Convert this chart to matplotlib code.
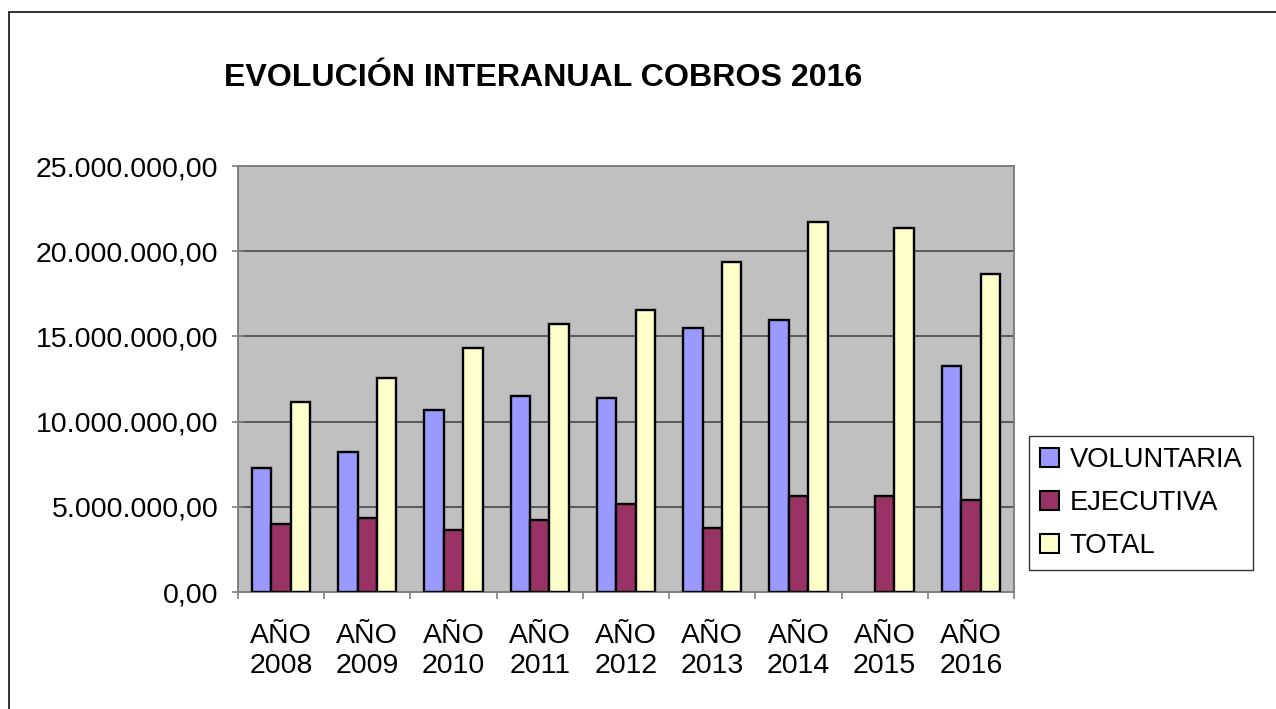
import numpy as np
import matplotlib
matplotlib.use('Agg')
import matplotlib.pyplot as plt
from matplotlib.lines import Line2D
from matplotlib.ticker import FuncFormatter, MultipleLocator

plt.rcParams['font.family'] = ['Liberation Sans', 'DejaVu Sans']

years = ['2008', '2009', '2010', '2011', '2012', '2013', '2014', '2015', '2016']
voluntaria = [7270000, 8210000, 10670000, 11500000, 11380000,
              15480000, 15950000, 0, 13260000]
ejecutiva = [3990000, 4340000, 3640000, 4220000, 5160000,
             3750000, 5630000, 5630000, 5400000]
total = [11140000, 12550000, 14310000, 15720000, 16540000,
         19350000, 21700000, 21350000, 18650000]


def es_format(v, pos=None):
    # Spanish style: dot for thousands, comma for decimals
    s = '{:,.2f}'.format(v)
    return s.replace(',', 'X').replace('.', ',').replace('X', '.')


fig = plt.figure(figsize=(12.76, 7.09), dpi=100)
ax = fig.add_axes([238 / 1276, 1 - 592 / 709,
                   (1014 - 238) / 1276, (592 - 166) / 709])
ax.set_facecolor('#C0C0C0')

index = np.arange(len(years))
bar_width = 0.225
edge = dict(edgecolor='black', linewidth=1.7)

series = [(voluntaria, -bar_width, '#9999FF', 'VOLUNTARIA'),
          (ejecutiva, 0, '#993366', 'EJECUTIVA'),
          (total, bar_width, '#FFFFCC', 'TOTAL')]
for values, offset, color, label in series:
    bars = ax.bar(index + offset, values, bar_width, color=color,
                  label=label, zorder=3, **edge)
    # empty bars get no outline
    for b, v in zip(bars, values):
        if v == 0:
            b.set_linewidth(0)

ax.set_xlim(-0.5, len(years) - 0.5)
ax.set_ylim(0, 25000000)
ax.yaxis.set_major_locator(MultipleLocator(5000000))
ax.yaxis.set_major_formatter(FuncFormatter(es_format))
ax.grid(axis='y', color='#5a5a5a', linewidth=1.4, zorder=1)

ax.set_xticks(index)
ax.set_xticklabels(['AÑO\n' + y for y in years])
ax.set_xticks(np.arange(-0.5, len(years)), minor=True)
ax.tick_params(axis='x', which='major', length=0, pad=22, labelsize=20.5)
ax.tick_params(axis='x', which='minor', length=5, width=1.2,
               color='#808080', direction='out')
ax.tick_params(axis='y', length=8, width=1.2, color='#808080',
               direction='inout', pad=10, labelsize=20.5)

for s in ax.spines.values():
    s.set_color('#808080')
    s.set_linewidth(1.4)

fig.text(543 / 1276, 1 - 78 / 709, 'EVOLUCIÓN INTERANUAL COBROS 2016',
         ha='center', va='center', fontsize=23.1, fontweight='bold')

leg = fig.legend(loc='upper left', bbox_to_anchor=(1029 / 1276, 1 - 436 / 709),
                 fontsize=19.7, frameon=True, fancybox=False, shadow=False,
                 handlelength=0.68, handleheight=0.68, handletextpad=0.4,
                 labelspacing=0.62, borderpad=0.4, borderaxespad=0)
leg.get_frame().set_edgecolor('black')
leg.get_frame().set_linewidth(1.0)
for h in leg.legend_handles:
    h.set_linewidth(1.5)

# outer chart border
fig.add_artist(Line2D([9 / 1276, 9 / 1276], [0, 1 - 12 / 709],
                      transform=fig.transFigure, color='#333333', linewidth=1.4))
fig.add_artist(Line2D([9 / 1276, 1], [1 - 12 / 709, 1 - 12 / 709],
                      transform=fig.transFigure, color='#333333', linewidth=1.4))

plt.savefig('out.png', dpi=100)
plt.close()
